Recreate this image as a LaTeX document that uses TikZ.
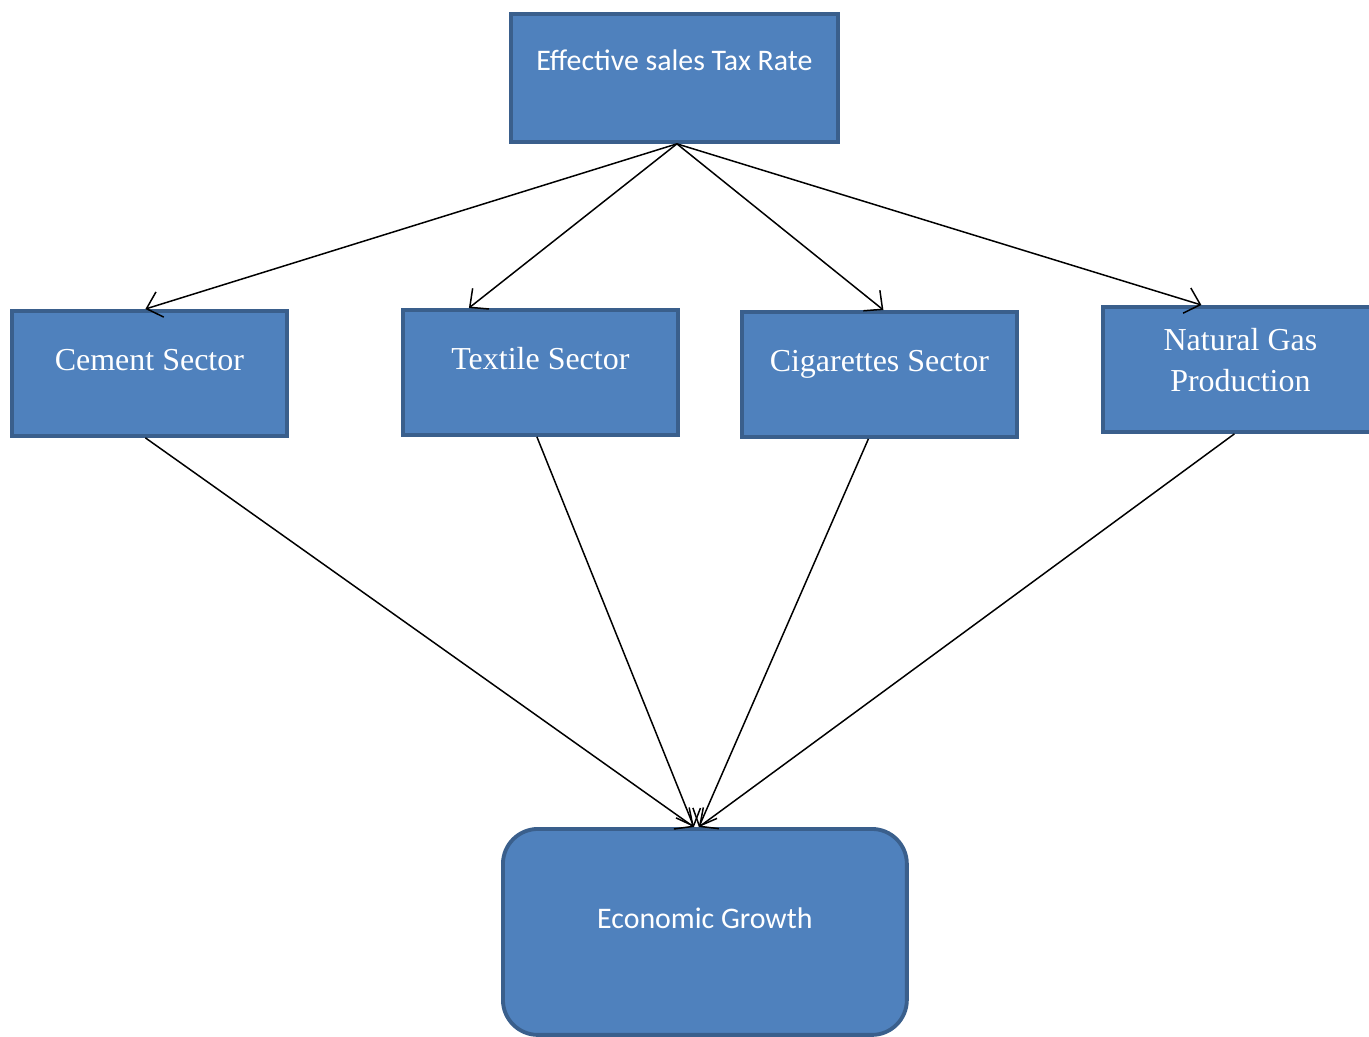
\documentclass[tikz,border=0pt]{standalone}
\usepackage{fontspec}
\setmainfont{Liberation Serif}
\newfontfamily\calibri{Carlito}
\usetikzlibrary{arrows.meta,calc}
\definecolor{boxblue}{HTML}{4F81BD}
\definecolor{boxline}{HTML}{3A5F8C}
\tikzstyle{box}=[draw=boxline,fill=boxblue,line width=2.2pt,text=white,
  inner sep=0pt,anchor=north west,align=center,
  font=\fontsize{18.2}{23.5}\selectfont]
\tikzstyle{sector}=[box,minimum width=5.5cm,text height=1.2cm,text depth=1.3cm]
\tikzstyle{arrow}=[->, line width=0.85pt]

\begin{document}
\begin{tikzpicture}[x=0.02cm, y=-0.02cm,
    >={Straight Barb[length=8pt,width=15pt]}]
  \useasboundingbox (0,0) rectangle (1369,1036);

  \node[box, minimum width=6.54cm, text height=1.14cm, text depth=1.42cm,
        font=\calibri\fontsize{17}{20}\selectfont]
        (tax) at (509,12) {Effective sales Tax Rate};
  \node[sector] (cement)  at (10,309)   {Cement Sector};
  \node[sector] (textile) at (401,308)  {Textile Sector};
  \node[sector] (cig)     at (740,310)  {Cigarettes Sector};
  \node[sector, text height=1.28cm, text depth=0.4cm, minimum height=2.5cm]
        (gas)     at (1101,305) {Natural Gas\\Production};
  \node[box, rounded corners=0.7cm, minimum width=8.08cm, text height=2.0cm,
        text depth=2.12cm, font=\calibri\fontsize{17}{20}\selectfont]
        (growth)  at (501,827) {Economic Growth};

  % tax rate to the sectors
  \draw[arrow] ([xshift=0.05cm]tax.south) -- ([xshift=-0.08cm]cement.north);
  \draw[arrow] ([xshift=0.05cm]tax.south) -- ([xshift=-1.43cm]textile.north);
  \draw[arrow] ([xshift=0.05cm]tax.south) -- ([xshift=0.08cm]cig.north);
  \draw[arrow] ([xshift=0.05cm]tax.south) -- ([xshift=-0.78cm]gas.north);

  % sectors to growth
  \draw[arrow] ([xshift=-0.08cm]cement.south) -- ([xshift=-0.22cm]growth.north);
  \draw[arrow] ([xshift=-0.07cm]textile.south) -- ([xshift=-0.22cm]growth.north);
  \draw[arrow] ([xshift=-0.22cm]cig.south) -- ([xshift=-0.12cm]growth.north);
  \draw[arrow] ([xshift=-0.12cm]gas.south) -- ([xshift=-0.12cm]growth.north);
\end{tikzpicture}
\end{document}
